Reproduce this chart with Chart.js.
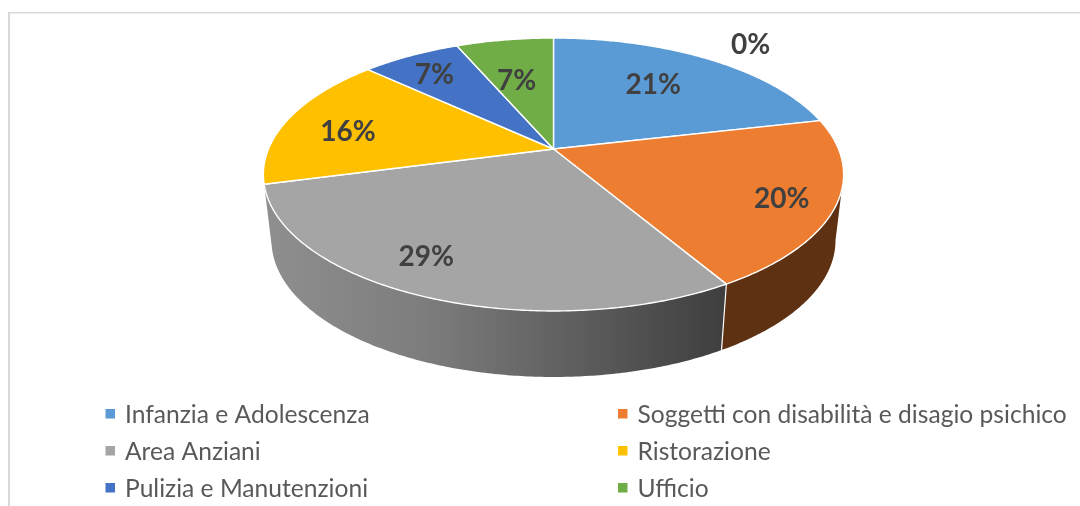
<!DOCTYPE html>
<html><head><meta charset="utf-8">
<style>html,body{margin:0;padding:0;background:#fff}#w{width:1080px;height:506px}</style>
<script src="https://cdn.jsdelivr.net/npm/chart.js@4/dist/chart.umd.min.js"></script>
</head><body><div id="w"><canvas id="c"></canvas></div>
<script>
const categories = ["Infanzia e Adolescenza","Soggetti con disabilità e disagio psichico","Area Anziani","Ristorazione","Pulizia e Manutenzioni","Ufficio",""];
const shares = [21.4,20.1,29.4,16.0,6.6,6.5,0];
const sliceColors = ["#5B9BD5","#ED7D31","#A5A5A5","#FFC000","#4472C4","#70AD47","#255E91"];
const percentLabels = ["21%","20%","29%","16%","7%","7%","0%"];

// appearance settings (not data)
const VIEW = {cx:553.5, cy:149, a:285, b:131.7, p:0.1868, depth:66, shrink:0.972};
const LABEL_R = 0.7;
const LABEL_NUDGE = [[-13,1.5],[35,11.5],[-41,10.5],[-18,5],[-15,-6],[-1,12],[197,-22.5]];
const FONT = "Lato, Carlito, sans-serif";

function project(angle, r=1){
  const u=r*Math.cos(angle), v=r*Math.sin(angle), d=1-VIEW.p*v;
  return [VIEW.cx+VIEW.a*u/d, VIEW.cy+VIEW.b*v/d];
}
function edge(start,end){
  const pts=[], n=Math.max(2,Math.ceil((end-start)/0.01));
  for(let i=0;i<=n;i++) pts.push(project(start+(end-start)*i/n));
  return pts;
}
const lower=p=>[VIEW.cx+(p[0]-VIEW.cx)*VIEW.shrink,p[1]+VIEW.depth];

const pie3d={
  id:'pie3d',
  beforeDatasetsDraw(chart){
    const ctx=chart.ctx, arcs=chart.getDatasetMeta(0).data;
    ctx.save();
    // frame
    ctx.fillStyle='#d9d9d9';
    ctx.fillRect(8,12,1072,1.5);
    ctx.fillRect(8,12,2,494);
    // walls: only the slices facing the viewer, starting at the silhouette
    const rightmost=Math.asin(VIEW.p);
    arcs.forEach((arc,i)=>{
      if(arc.endAngle-arc.startAngle<=0) return;
      const mid=(arc.startAngle+arc.endAngle)/2;
      if(Math.sin(mid)<=0) return;
      const top=edge(Math.max(arc.startAngle,rightmost),arc.endAngle);
      const bot=top.map(lower).reverse();
      ctx.beginPath();
      [...top,...bot].forEach((p,k)=>k?ctx.lineTo(p[0],p[1]):ctx.moveTo(p[0],p[1]));
      ctx.closePath();
      if(i===2){
        const g=ctx.createLinearGradient(264,0,722,0);
        g.addColorStop(0,'#8f8f8f');g.addColorStop(0.35,'#7d7d7d');g.addColorStop(0.7,'#5c5c5c');g.addColorStop(1,'#3f3f3f');
        ctx.fillStyle=g;
      } else ctx.fillStyle='#5e3112';
      ctx.fill();
      if(i===2){
        const e=top[0],f=lower(e);
        ctx.strokeStyle='#fff';ctx.lineWidth=1.2;
        ctx.beginPath();ctx.moveTo(e[0],e[1]);ctx.lineTo(f[0],f[1]);ctx.stroke();
      }
    });
    // top faces
    arcs.forEach((arc,i)=>{
      if(arc.endAngle-arc.startAngle<=0) return;
      ctx.beginPath();
      ctx.moveTo(VIEW.cx,VIEW.cy);
      edge(arc.startAngle,arc.endAngle).forEach(p=>ctx.lineTo(p[0],p[1]));
      ctx.closePath();
      ctx.fillStyle=arc.options.backgroundColor;
      ctx.fill();
      ctx.strokeStyle='#fff';ctx.lineWidth=1.4;ctx.lineJoin='round';
      ctx.stroke();
    });
    // percentage labels
    ctx.font='bold 28px '+FONT;
    ctx.fillStyle='#404040';
    ctx.textAlign='center';ctx.textBaseline='middle';
    arcs.forEach((arc,i)=>{
      const p=project((arc.startAngle+arc.endAngle)/2,LABEL_R);
      ctx.fillText(percentLabels[i],p[0]+LABEL_NUDGE[i][0],p[1]+LABEL_NUDGE[i][1]);
    });
    // legend: two columns
    ctx.font='24.6px '+FONT;
    ctx.textAlign='left';
    categories.forEach((name,i)=>{
      if(!name) return;
      const col=i%2,row=Math.floor(i/2);
      const x=col?618:105.5, y=414+row*37;
      ctx.fillStyle=sliceColors[i];
      ctx.fillRect(x,y-5,9.5,9.5);
      ctx.fillStyle='#595959';
      ctx.fillText(name,x+19.5,y+1);
    });
    ctx.restore();
    return false;
  }
};

new Chart(document.getElementById('c'),{
  type:'pie',
  data:{labels:categories,datasets:[{data:shares,backgroundColor:sliceColors,borderWidth:0}]},
  options:{
    responsive:true,maintainAspectRatio:false,animation:false,
    plugins:{legend:{display:false},tooltip:{enabled:false}}
  },
  plugins:[pie3d]
});
</script></body></html>
